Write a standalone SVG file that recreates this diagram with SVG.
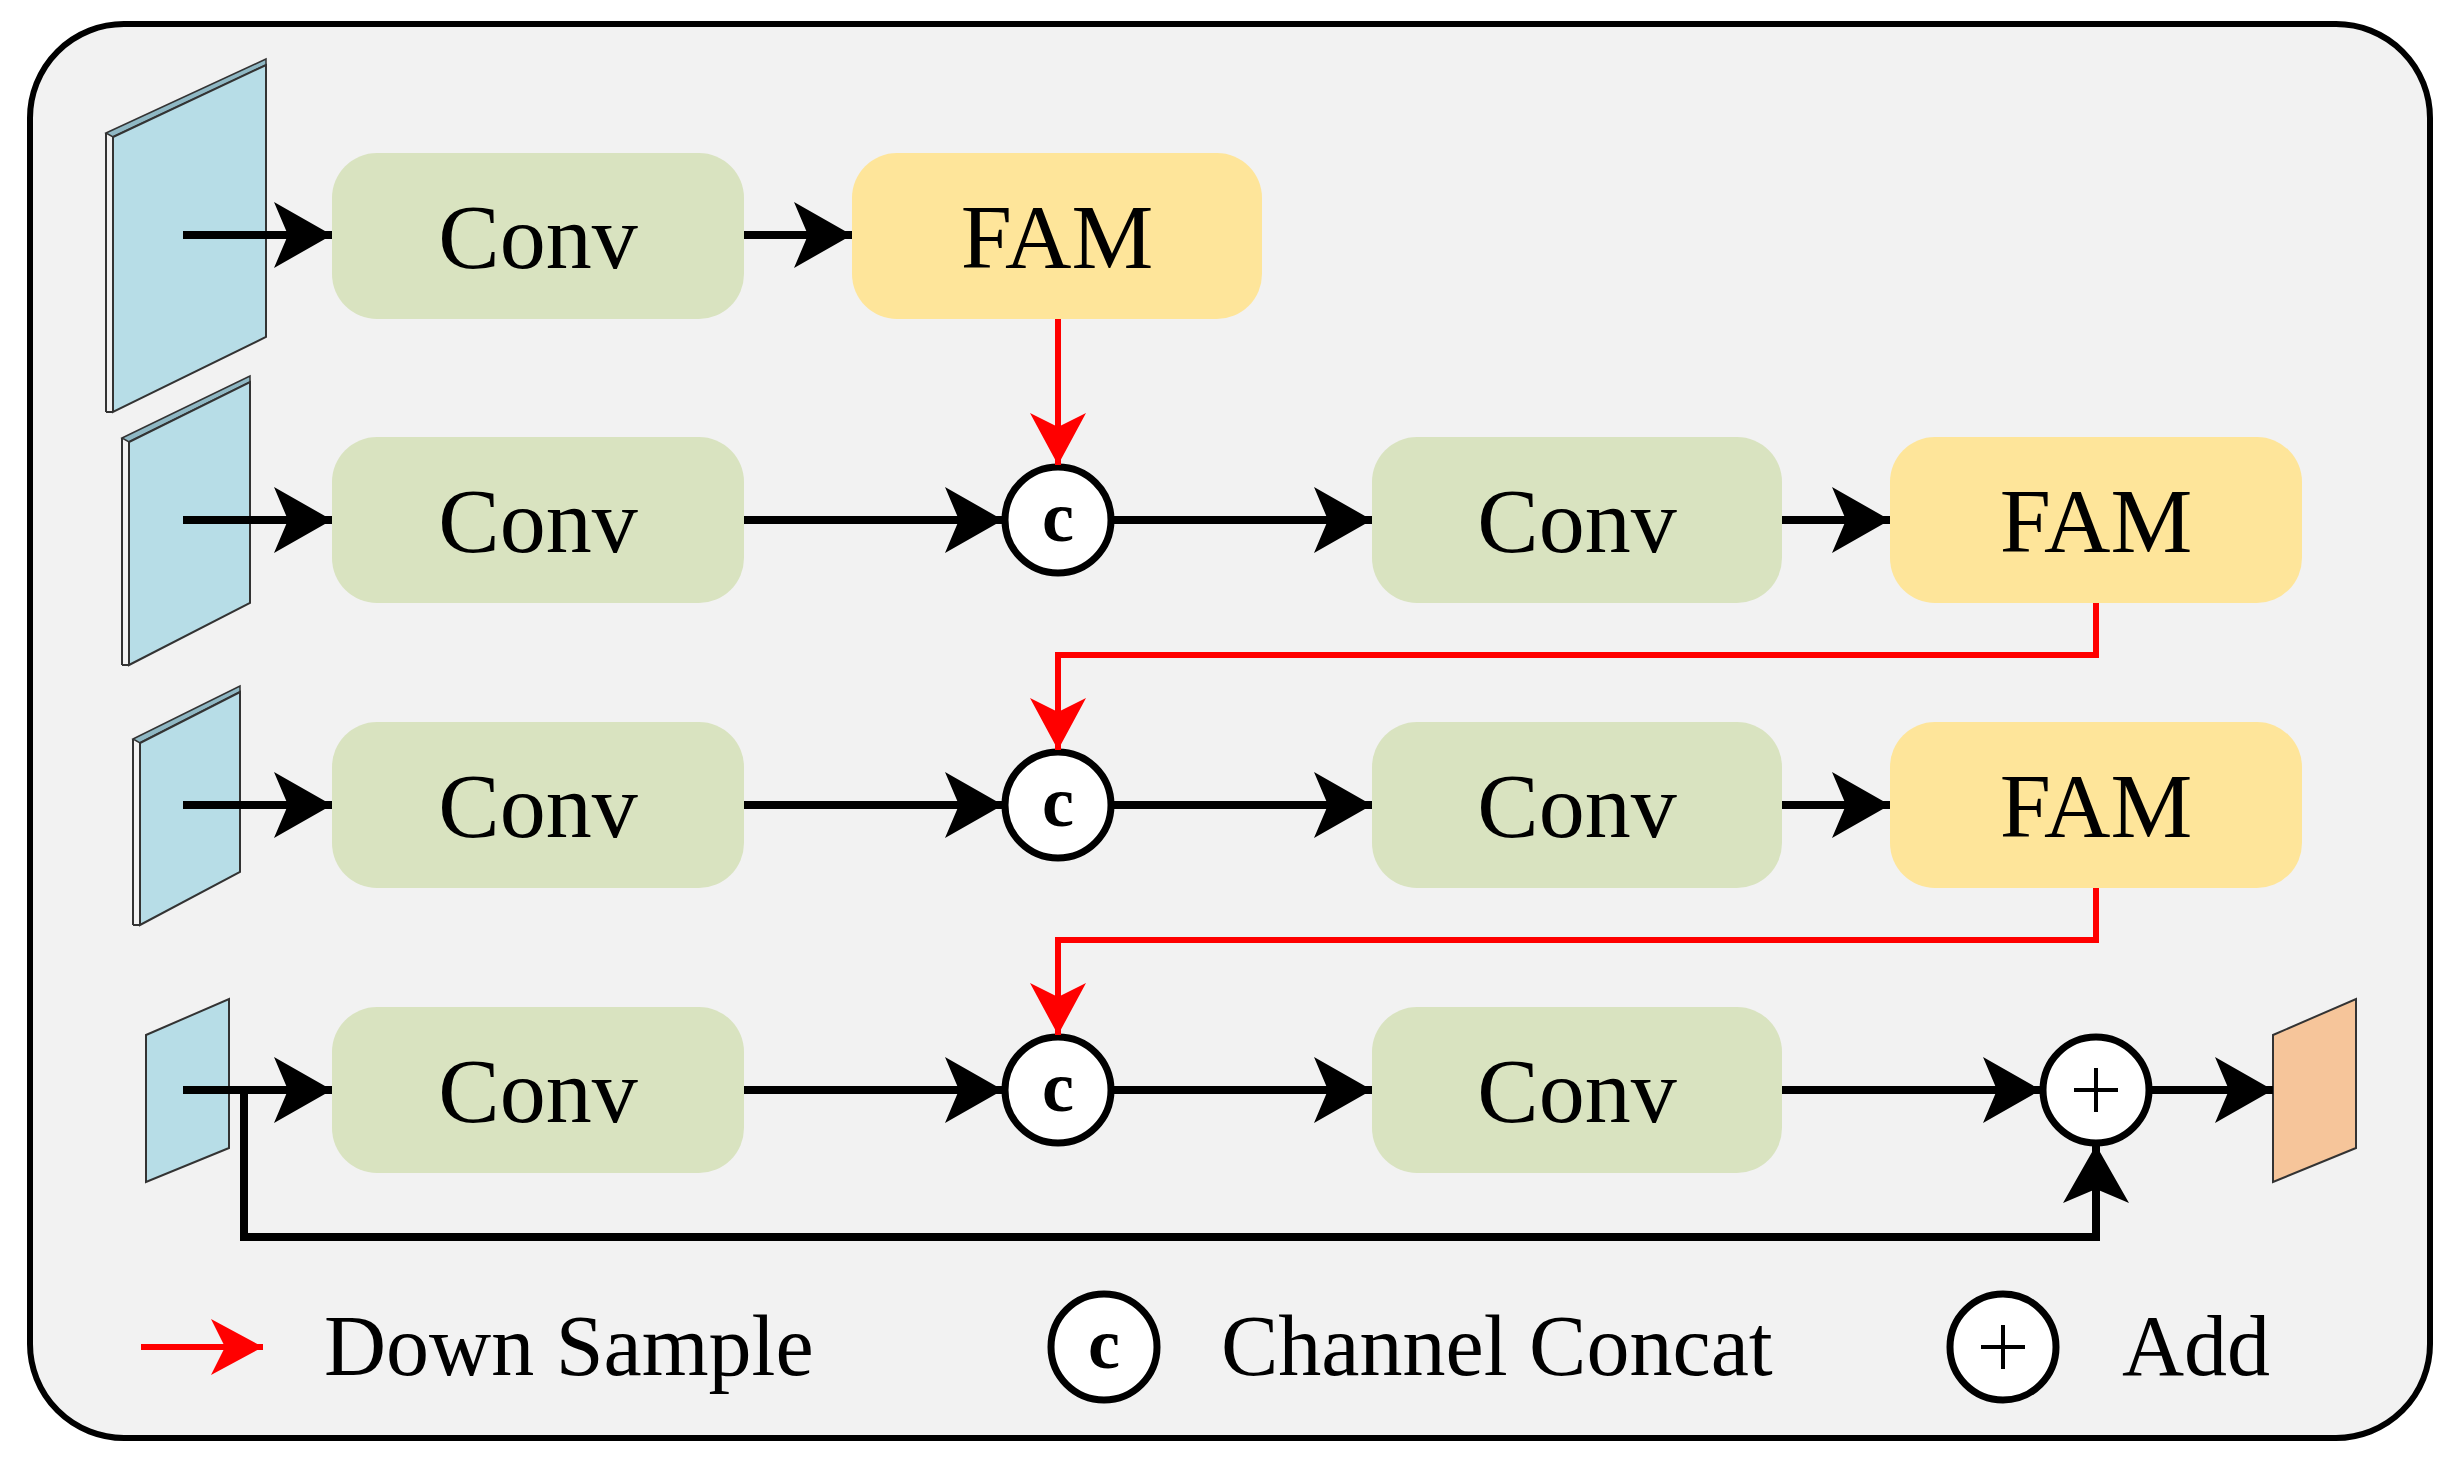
<svg xmlns="http://www.w3.org/2000/svg" width="2455" height="1463" viewBox="0 0 2455 1463">
<defs>
<style>
.conv{fill:#d9e3c0}
.fam{fill:#fee59a}
.lbl{font-family:"Liberation Serif",serif;font-size:92px;fill:#000;text-anchor:middle}
.leg{font-family:"Liberation Serif",serif;font-size:86px;fill:#000}
.op{fill:#fff;stroke:#000;stroke-width:7}
.opt{font-family:"Liberation Serif",serif;font-size:72px;font-weight:bold;text-anchor:middle}
.bl{stroke:#000;stroke-width:8;fill:none;marker-end:url(#ab)}
.rd{stroke:#f00;stroke-width:6;fill:none;marker-end:url(#ar)}
.fm{fill:#b7dde7;stroke:#333;stroke-width:2}
.sd{fill:#8fb8c4;stroke:#333;stroke-width:1.5}
</style>
<marker id="ab" markerUnits="userSpaceOnUse" markerWidth="70" markerHeight="70" refX="58" refY="33" orient="auto"><path d="M0,0 L58,33 L0,66 L14,33 z" fill="#000"/></marker>
<marker id="ar" markerUnits="userSpaceOnUse" markerWidth="70" markerHeight="70" refX="52" refY="28" orient="auto"><path d="M0,0 L52,28 L0,56 L14,28 z" fill="#f00"/></marker>
</defs>
<rect x="30" y="24" width="2400" height="1414" rx="94" fill="#f2f2f2" stroke="#000" stroke-width="6"/>
<g id="in1"><polygon class="sd" points="106,133 266,59 266,65 113,137"/><polygon class="fm" points="113,137 266,65 266,337 113,412"/><line x1="106" y1="133" x2="106" y2="412" stroke="#333" stroke-width="2"/><line x1="106" y1="412" x2="113" y2="412" stroke="#333" stroke-width="2"/></g>
<g id="in2"><polygon class="sd" points="122,438 250,376 250,382 129,442"/><polygon class="fm" points="129,442 250,382 250,603 129,665"/><line x1="122" y1="438" x2="122" y2="665" stroke="#333" stroke-width="2"/><line x1="122" y1="665" x2="129" y2="665" stroke="#333" stroke-width="2"/></g>
<g id="in3"><polygon class="sd" points="133,739 240,686 240,692 140,743"/><polygon class="fm" points="140,743 240,692 240,872 140,925"/><line x1="133" y1="739" x2="133" y2="925" stroke="#333" stroke-width="2"/><line x1="133" y1="925" x2="140" y2="925" stroke="#333" stroke-width="2"/></g>
<g id="in4"><polygon class="fm" points="146,1035 229,999 229,1148 146,1182"/></g>
<g id="out"><polygon points="2273,1035 2356,999 2356,1148 2273,1182" fill="#f6c59a" stroke="#333" stroke-width="2"/></g>
<g id="conv1"><rect class="conv" x="332" y="153" width="412" height="166" rx="45"/><text class="lbl" x="538" y="268">Conv</text></g>
<g id="fam1"><rect class="fam" x="852" y="153" width="410" height="166" rx="45"/><text class="lbl" x="1057" y="268">FAM</text></g>
<g id="conv2"><rect class="conv" x="332" y="437" width="412" height="166" rx="45"/><text class="lbl" x="538" y="552">Conv</text></g>
<g id="conv3"><rect class="conv" x="1372" y="437" width="410" height="166" rx="45"/><text class="lbl" x="1577" y="552">Conv</text></g>
<g id="fam2"><rect class="fam" x="1890" y="437" width="412" height="166" rx="45"/><text class="lbl" x="2096" y="552">FAM</text></g>
<g id="conv4"><rect class="conv" x="332" y="722" width="412" height="166" rx="45"/><text class="lbl" x="538" y="837">Conv</text></g>
<g id="conv5"><rect class="conv" x="1372" y="722" width="410" height="166" rx="45"/><text class="lbl" x="1577" y="837">Conv</text></g>
<g id="fam3"><rect class="fam" x="1890" y="722" width="412" height="166" rx="45"/><text class="lbl" x="2096" y="837">FAM</text></g>
<g id="conv6"><rect class="conv" x="332" y="1007" width="412" height="166" rx="45"/><text class="lbl" x="538" y="1122">Conv</text></g>
<g id="conv7"><rect class="conv" x="1372" y="1007" width="410" height="166" rx="45"/><text class="lbl" x="1577" y="1122">Conv</text></g>
<g id="cat1"><circle class="op" cx="1058" cy="520" r="53"/><text class="opt" x="1058" y="541">c</text></g>
<g id="cat2"><circle class="op" cx="1058" cy="805" r="53"/><text class="opt" x="1058" y="826">c</text></g>
<g id="cat3"><circle class="op" cx="1058" cy="1090" r="53"/><text class="opt" x="1058" y="1111">c</text></g>
<g id="add"><circle class="op" cx="2096" cy="1090" r="53"/><path d="M2074,1090 H2118 M2096,1068 V1112" stroke="#000" stroke-width="4"/></g>
<g id="connectors">
<line class="bl" x1="183" y1="235" x2="332" y2="235"/>
<line class="bl" x1="744" y1="235" x2="852" y2="235"/>
<line class="bl" x1="183" y1="520" x2="332" y2="520"/>
<line class="bl" x1="744" y1="520" x2="1003" y2="520"/>
<line class="bl" x1="1111" y1="520" x2="1372" y2="520"/>
<line class="bl" x1="1782" y1="520" x2="1890" y2="520"/>
<line class="bl" x1="183" y1="805" x2="332" y2="805"/>
<line class="bl" x1="744" y1="805" x2="1003" y2="805"/>
<line class="bl" x1="1111" y1="805" x2="1372" y2="805"/>
<line class="bl" x1="1782" y1="805" x2="1890" y2="805"/>
<line class="bl" x1="183" y1="1090" x2="332" y2="1090"/>
<line class="bl" x1="744" y1="1090" x2="1003" y2="1090"/>
<line class="bl" x1="1111" y1="1090" x2="1372" y2="1090"/>
<line class="bl" x1="1782" y1="1090" x2="2041" y2="1090"/>
<line class="bl" x1="2149" y1="1090" x2="2273" y2="1090"/>
<polyline class="bl" points="244,1090 244,1237 2096,1237 2096,1145"/>
<line class="rd" x1="1058" y1="319" x2="1058" y2="465"/>
<polyline class="rd" points="2096,603 2096,655 1058,655 1058,750"/>
<polyline class="rd" points="2096,888 2096,940 1058,940 1058,1035"/>
</g>
<g id="legend">
<line class="rd" x1="141" y1="1347" x2="263" y2="1347"/>
<text class="leg" x="324" y="1375">Down Sample</text>
<circle class="op" cx="1104" cy="1347" r="53"/><text class="opt" x="1104" y="1368">c</text>
<text class="leg" x="1221" y="1375">Channel Concat</text>
<circle class="op" cx="2003" cy="1347" r="53"/><path d="M1981,1347 H2025 M2003,1325 V1369" stroke="#000" stroke-width="4"/>
<text class="leg" x="2122" y="1375">Add</text>
</g>
</svg>
